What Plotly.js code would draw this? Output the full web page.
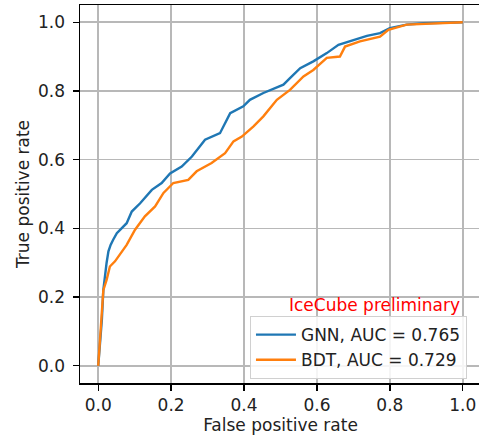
<!DOCTYPE html>
<html>
<head>
<meta charset="utf-8">
<script src="https://cdn.plot.ly/plotly-3.0.1.min.js"></script>
<style>
html, body { margin: 0; padding: 0; overflow: hidden; background: #fff; }
#chart { width: 482px; height: 441px; }
</style>
</head>
<body>
<div id="chart"></div>
<script>
// GNN ROC curve
const gnnFpr = [0, 0.003, 0.01, 0.014, 0.019, 0.023, 0.028, 0.034, 0.041, 0.051, 0.064, 0.078, 0.092, 0.115, 0.147, 0.174, 0.197, 0.229, 0.257, 0.293, 0.334, 0.353, 0.362, 0.398, 0.416, 0.453, 0.508, 0.526, 0.554, 0.59, 0.627, 0.659, 0.70, 0.737, 0.773, 0.80, 0.846, 0.892, 1.0];
const gnnTpr = [0, 0.037, 0.134, 0.22, 0.27, 0.30, 0.333, 0.352, 0.367, 0.386, 0.40, 0.415, 0.449, 0.473, 0.512, 0.532, 0.56, 0.58, 0.609, 0.658, 0.677, 0.716, 0.735, 0.755, 0.774, 0.794, 0.818, 0.837, 0.866, 0.886, 0.91, 0.934, 0.948, 0.96, 0.968, 0.983, 0.993, 0.997, 1.0];

// BDT ROC curve
const bdtFpr = [0, 0.005, 0.01, 0.014, 0.023, 0.032, 0.046, 0.064, 0.078, 0.101, 0.128, 0.156, 0.179, 0.206, 0.247, 0.27, 0.311, 0.348, 0.371, 0.394, 0.426, 0.453, 0.49, 0.526, 0.563, 0.59, 0.627, 0.663, 0.677, 0.718, 0.773, 0.796, 0.846, 1.0];
const bdtTpr = [0, 0.076, 0.153, 0.22, 0.25, 0.289, 0.304, 0.333, 0.352, 0.396, 0.435, 0.464, 0.503, 0.532, 0.541, 0.566, 0.59, 0.619, 0.653, 0.667, 0.697, 0.726, 0.774, 0.803, 0.842, 0.861, 0.896, 0.90, 0.929, 0.944, 0.958, 0.978, 0.993, 1.0];

const seriesNames = ["GNN, AUC = 0.765", "BDT, AUC = 0.729"];
const tickVals = [0, 0.2, 0.4, 0.6, 0.8, 1.0];
const tickText = ["0.0", "0.2", "0.4", "0.6", "0.8", "1.0"];
const xTitle = "False positive rate";
const yTitle = "True positive rate";
const stampText = "IceCube preliminary";

const FONT = "DejaVu Sans, Liberation Sans, sans-serif";

const traces = [
  { x: gnnFpr, y: gnnTpr, name: seriesNames[0], type: "scatter", mode: "lines",
    line: { color: "#1f77b4", width: 2.4 } },
  { x: bdtFpr, y: bdtTpr, name: seriesNames[1], type: "scatter", mode: "lines",
    line: { color: "#ff7f0e", width: 2.4 } }
];

const axisCommon = {
  tickvals: tickVals,
  ticktext: tickText,
  ticks: "outside",
  ticklen: 6,
  tickwidth: 1.3,
  tickcolor: "#000",
  showgrid: true,
  gridcolor: "#b8b8b8",
  gridwidth: 1.5,
  zeroline: false,
  showline: true,
  linecolor: "#000",
  linewidth: 1.5,
  mirror: true,
  tickfont: { family: FONT, size: 17, color: "#222" },
  automargin: false,
  fixedrange: true
};

const layout = {
  width: 482,
  height: 441,
  margin: { l: 80, r: 1, t: 5, b: 58 },
  paper_bgcolor: "#fff",
  plot_bgcolor: "#fff",
  font: { family: FONT, size: 17, color: "#222" },
  xaxis: Object.assign({}, axisCommon, {
    range: [-0.05, 1.05],
    title: { text: xTitle, font: { family: FONT, size: 17, color: "#222" }, standoff: 4 }
  }),
  yaxis: Object.assign({}, axisCommon, {
    range: [-0.05, 1.05],
    ticklabelstandoff: 4,
    title: { text: yTitle, font: { family: FONT, size: 17, color: "#222" }, standoff: 4 }
  }),
  showlegend: true,
  legend: {
    x: 0.965, xanchor: "right",
    y: 0.177, yanchor: "top",
    bgcolor: "rgba(255,255,255,0.85)",
    bordercolor: "#d0d0d0",
    borderwidth: 1,
    font: { family: FONT, size: 17, color: "#222" },
    itemwidth: 40,
    tracegroupgap: 0
  },
  annotations: [{
    text: stampText,
    xref: "paper", yref: "paper",
    x: 0.952, y: 0.206,
    xanchor: "right", yanchor: "middle",
    showarrow: false,
    font: { family: FONT, size: 17, color: "#ff0000" }
  }]
};

Plotly.newPlot("chart", traces, layout, { displayModeBar: false, staticPlot: true });
</script>
</body>
</html>
